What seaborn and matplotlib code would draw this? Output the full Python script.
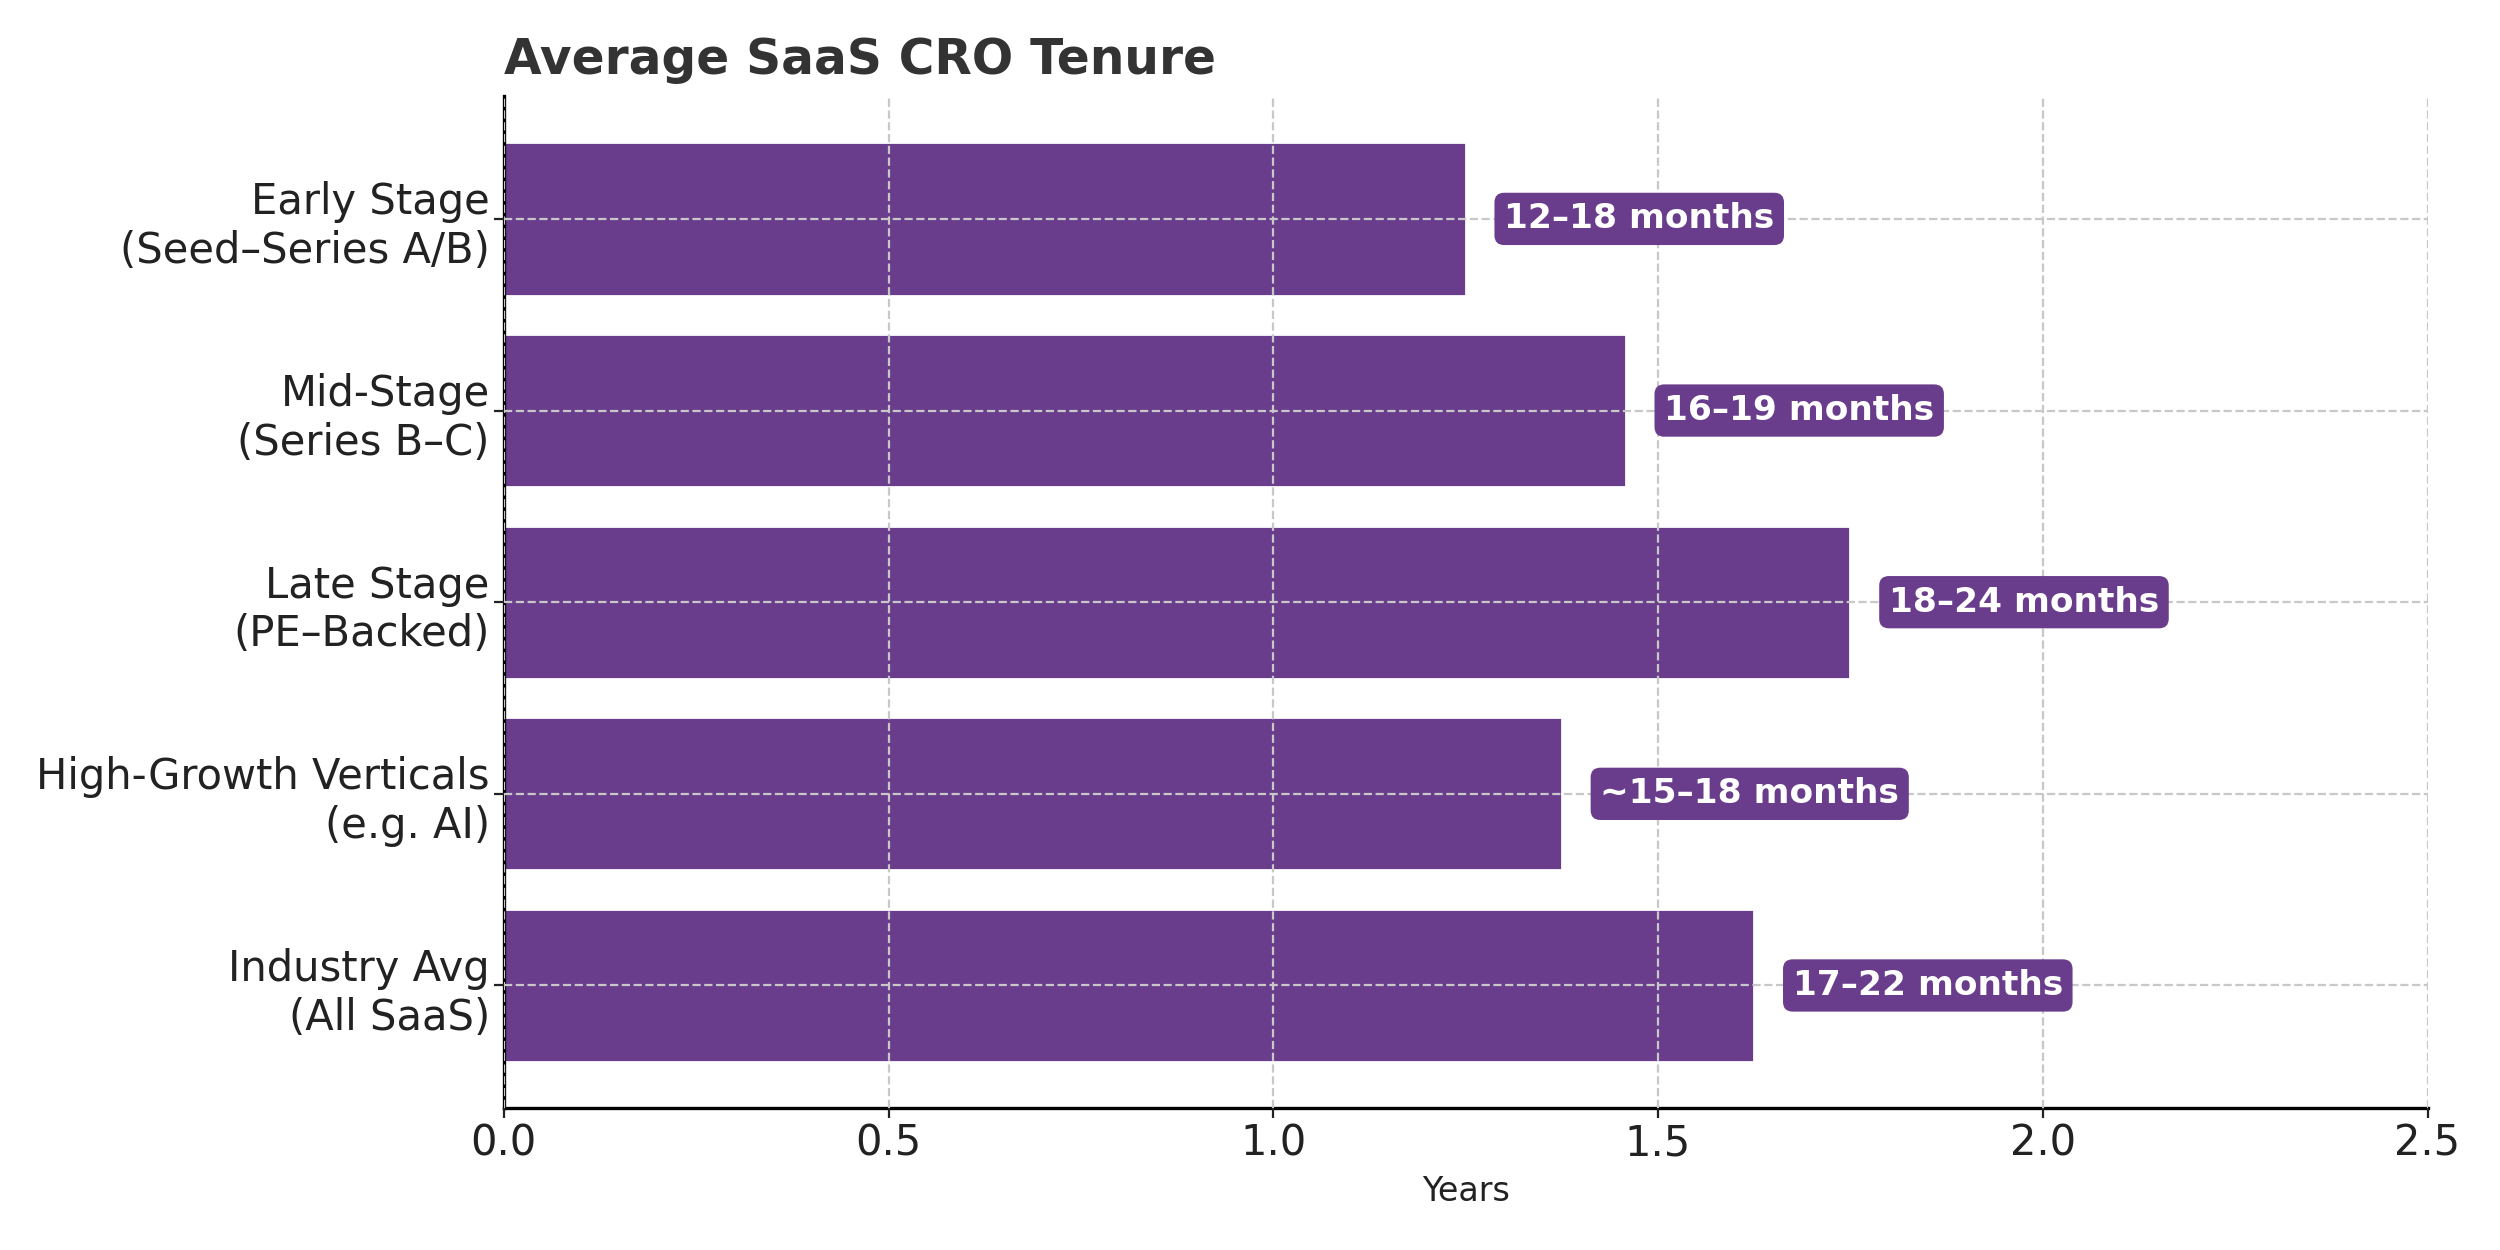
import numpy as np
import pandas as pd
import matplotlib
matplotlib.use("Agg")
import matplotlib.pyplot as plt
import seaborn as sns

# chart data
categories = [
    "Early Stage\n(Seed\u2013Series A/B)",
    "Mid-Stage\n(Series B\u2013C)",
    "Late Stage\n(PE\u2013Backed)",
    "High-Growth Verticals\n(e.g. AI)",
    "Industry Avg\n(All SaaS)",
]
years = [1.25, 1.458, 1.75, 1.375, 1.625]
range_labels = [
    "12\u201318 months",
    "16\u201319 months",
    "18\u201324 months",
    "~15\u201318 months",
    "17\u201322 months",
]

bar_color = "#693c8c"

sns.set_style("whitegrid")
plt.rcParams["font.family"] = ["DejaVu Sans"]

df = pd.DataFrame({"category": categories, "years": years})

fig, ax = plt.subplots(figsize=(12.5, 6.25), dpi=200)
fig.subplots_adjust(left=0.2015, right=0.971, top=0.923, bottom=0.1135)

sns.barplot(data=df, x="years", y="category", orient="h", color=bar_color,
            saturation=1, width=0.8, ax=ax)

# value range labels next to each bar
for i, (v, lab) in enumerate(zip(years, range_labels)):
    ax.text(v + 0.05, i, lab, ha="left", va="center", color="white",
            fontsize=12.4, fontweight="bold",
            bbox=dict(boxstyle="round,pad=0.28", facecolor=bar_color,
                      edgecolor="none"))

ax.set_xlim(0, 2.5)
ax.set_xticks(np.arange(0, 2.51, 0.5))
ax.set_ylim(4.64, -0.64)
ax.set_axisbelow(False)
ax.grid(True, linestyle="--", color="#c8c8c8", linewidth=0.8)

ax.set_title("Average SaaS CRO Tenure", loc="left", fontsize=17.5,
             fontweight="bold", color="#333333", pad=8)
ax.set_xlabel("Years", fontsize=12, color="#222222")
ax.set_ylabel("")
ax.tick_params(axis="both", labelsize=15, colors="#222222", length=3.5,
               width=0.8, pad=1.5, left=True, bottom=True)

for side in ["top", "right"]:
    ax.spines[side].set_visible(False)
for side in ["left", "bottom"]:
    ax.spines[side].set_color("black")
    ax.spines[side].set_linewidth(1.2)

fig.savefig("out.png", dpi=200)
